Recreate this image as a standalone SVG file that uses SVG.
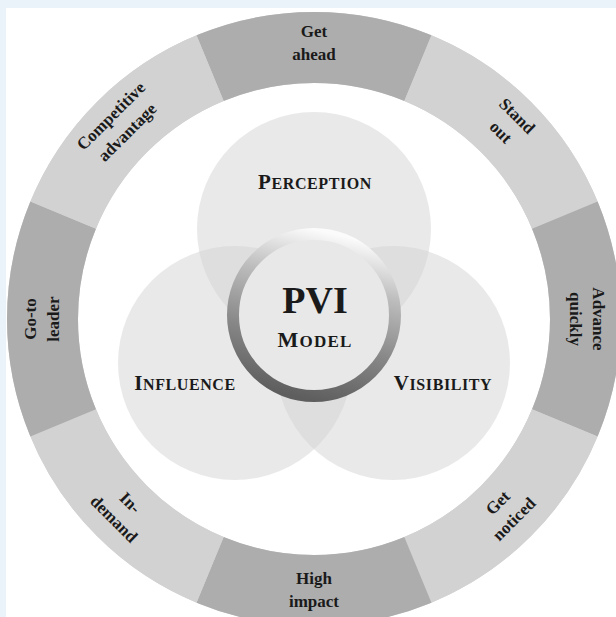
<svg xmlns="http://www.w3.org/2000/svg" width="616" height="617" viewBox="0 0 616 617">
<style>
.dark{fill:#adadad}
.light{fill:#d2d2d2}
.lbl{font-family:"Liberation Serif","Times New Roman",serif;font-weight:bold;font-size:17px;fill:#1a1a1a;text-anchor:middle}
.venn{fill:#d4d4d4;fill-opacity:0.5}
.cap{font-family:"Liberation Serif","Times New Roman",serif;font-weight:bold;fill:#1a1a1a;text-anchor:middle}
</style>
<defs>
<linearGradient id="ringGrad" x1="0.62" y1="0" x2="0.38" y2="1">
<stop offset="0" stop-color="#fbfbfb"/>
<stop offset="0.3" stop-color="#bdbdbd"/>
<stop offset="0.65" stop-color="#888888"/>
<stop offset="1" stop-color="#5e5e5e"/>
</linearGradient>
</defs>
<rect x="0" y="0" width="616" height="617" fill="#eaf2fa"/>
<rect x="6" y="8" width="610" height="609" fill="#ffffff"/>
<g id="ring">
<circle cx="314" cy="319" r="271.5" fill="none" stroke="#d2d2d2" stroke-width="71"/>
<g id="seg-get-ahead">
<path class="dark" d="M196.52,35.37 A307,307 0 0 1 431.48,35.37 L404.31,100.96 A236,236 0 0 0 223.69,100.96 Z"/>
<text class="lbl"><tspan x="314" y="36.5">Get</tspan><tspan x="314" y="59.5">ahead</tspan></text>
</g>
<g id="seg-stand-out">
<path class="light" d="M431.48,35.37 A307,307 0 0 1 597.63,201.52 L532.04,228.69 A236,236 0 0 0 404.31,100.96 Z"/>
<g transform="rotate(45 314 319)"><text class="lbl"><tspan x="314" y="37.5">Stand</tspan><tspan x="314" y="60.5">out</tspan></text></g>
</g>
<g id="seg-advance-quickly">
<path class="dark" d="M597.63,201.52 A307,307 0 0 1 597.63,436.48 L532.04,409.31 A236,236 0 0 0 532.04,228.69 Z"/>
<g transform="rotate(90 314 319)"><text class="lbl"><tspan x="314" y="40.5">Advance</tspan><tspan x="314" y="63.5">quickly</tspan></text></g>
</g>
<g id="seg-get-noticed">
<path class="light" d="M597.63,436.48 A307,307 0 0 1 431.48,602.63 L404.31,537.04 A236,236 0 0 0 532.04,409.31 Z"/>
<g transform="rotate(-45 314 319)"><text class="lbl"><tspan x="314" y="584.5">Get</tspan><tspan x="314" y="607.5">noticed</tspan></text></g>
</g>
<g id="seg-high-impact">
<path class="dark" d="M431.48,602.63 A307,307 0 0 1 196.52,602.63 L223.69,537.04 A236,236 0 0 0 404.31,537.04 Z"/>
<text class="lbl"><tspan x="314" y="583.5">High</tspan><tspan x="314" y="606.5">impact</tspan></text>
</g>
<g id="seg-in-demand">
<path class="light" d="M196.52,602.63 A307,307 0 0 1 30.37,436.48 L95.96,409.31 A236,236 0 0 0 223.69,537.04 Z"/>
<g transform="rotate(45 314 319)"><text class="lbl"><tspan x="314" y="584.5">In-</tspan><tspan x="314" y="607.5">demand</tspan></text></g>
</g>
<g id="seg-go-to-leader">
<path class="dark" d="M30.37,436.48 A307,307 0 0 1 30.37,201.52 L95.96,228.69 A236,236 0 0 0 95.96,409.31 Z"/>
<g transform="rotate(-90 314 319)"><text class="lbl"><tspan x="314" y="40.5">Go-to</tspan><tspan x="314" y="63.5">leader</tspan></text></g>
</g>
<g id="seg-competitive-advantage">
<path class="light" d="M30.37,201.52 A307,307 0 0 1 196.52,35.37 L223.69,100.96 A236,236 0 0 0 95.96,228.69 Z"/>
<g transform="rotate(-45 314 319)"><text class="lbl"><tspan x="314" y="37.5">Competitive</tspan><tspan x="314" y="60.5">advantage</tspan></text></g>
</g>
</g>
<g id="connectors"></g>
<g id="perception">
<circle class="venn" cx="314" cy="229" r="117"/>
</g>
<g id="influence">
<circle class="venn" cx="235" cy="363" r="117"/>
</g>
<g id="visibility">
<circle class="venn" cx="393" cy="363" r="117"/>
</g>
<g id="perception-label">
<text class="cap" x="315" y="189" letter-spacing="0.6"><tspan font-size="21">P</tspan><tspan font-size="16">ERCEPTION</tspan></text>
</g>
<g id="influence-label">
<text class="cap" x="185" y="390" letter-spacing="0.6"><tspan font-size="21">I</tspan><tspan font-size="16">NFLUENCE</tspan></text>
</g>
<g id="visibility-label">
<text class="cap" x="443" y="390" letter-spacing="0.6"><tspan font-size="21">V</tspan><tspan font-size="16">ISIBILITY</tspan></text>
</g>
<g id="pvi-model">
<circle cx="314" cy="315" r="81" fill="#e8e8e8" stroke="url(#ringGrad)" stroke-width="12"/>
<text class="cap" x="315" y="313" font-size="38">PVI</text>
<text class="cap" x="315" y="347" letter-spacing="1.2"><tspan font-size="22">M</tspan><tspan font-size="17">ODEL</tspan></text>
</g>
</svg>
